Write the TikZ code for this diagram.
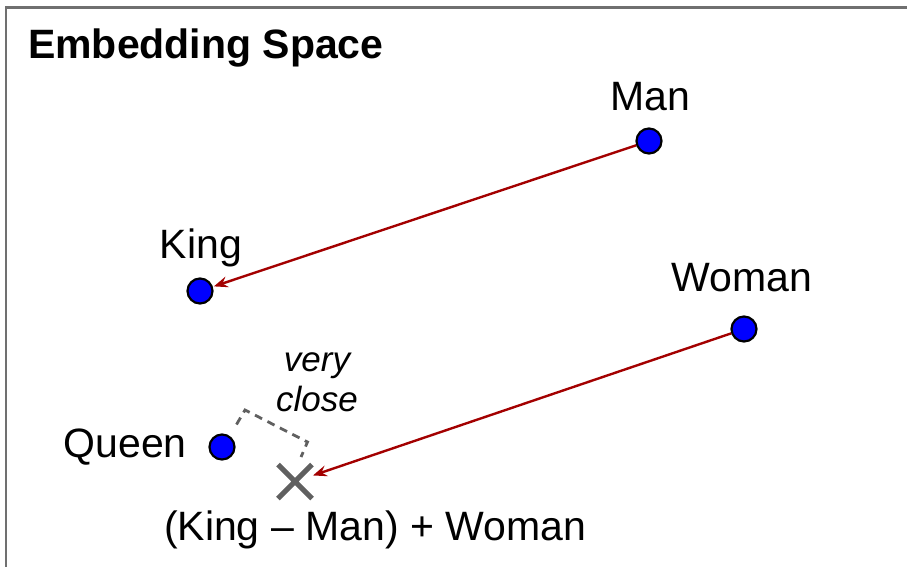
\documentclass[tikz,border=0pt]{standalone}
\usepackage{fontspec}
\setmainfont{Liberation Sans}
\usetikzlibrary{arrows.meta,shapes.misc}
\definecolor{arrred}{RGB}{163,0,0}
\definecolor{framegray}{RGB}{112,112,112}
\definecolor{xgray}{RGB}{96,96,96}
\tikzset{
  dot/.style={circle,fill=blue,draw=black,line width=2.2pt,minimum size=25pt,inner sep=0pt},
  lbl/.style={anchor=base,inner sep=0pt,font=\fontsize{41}{49}\selectfont},
  arr/.style={draw=arrred,line width=2.4pt,-{Stealth[length=14pt,width=11pt,inset=5pt]},shorten >=1pt},
  frame/.style={draw=framegray,line width=2.5pt},
  closebr/.style={draw=xgray,line width=2.8pt,dash pattern=on 8pt off 6pt},
  crossmark/.style={cross out,draw=xgray,line width=5pt,minimum size=29pt,inner sep=0pt}
}
\begin{document}
\begin{tikzpicture}[x=1pt,y=-1pt]
\useasboundingbox (0,0) rectangle (907,566);
% frame
\coordinate (ftl) at (6,7.5);
\coordinate (ftr) at (910,7.5);
\coordinate (fbl) at (6,570);
\draw[frame] (fbl) -- (ftl) -- (ftr);
% title
\node[anchor=base west,inner sep=0pt,font=\fontsize{41}{49}\selectfont\bfseries] (title) at (28,58) {Embedding Space};
% dots
\node[dot] (man) at (649,141) {};
\node[dot] (king) at (200,291) {};
\node[dot] (woman) at (744,329) {};
\node[dot] (queen) at (222,447) {};
\node[crossmark] (x) at (295,481.5) {};
% labels
\node[lbl] (manl) at (650,110) {Man};
\node[lbl] (kingl) at (201,258) {King};
\node[lbl] (womanl) at (742,291) {Woman};
\node[lbl,anchor=base east] (queenl) at (187,457) {Queen};
\node[lbl] (forml) at (375,540) {(King – Man) + Woman};
\node[anchor=base,inner sep=0pt,font=\fontsize{35}{40}\selectfont\itshape,align=center] (close) at (317,411.5) {very\\close};
% arrows
\draw[arr] (man) -- (king);
\draw[arr] (woman) -- (x);
% bracket
\coordinate (b1) at (236.5,424.5);
\coordinate (b2) at (245,410);
\coordinate (b3) at (307.5,442);
\coordinate (b4) at (301,457);
\draw[closebr] (b1) -- (b2) -- (b3) -- (b4);
\end{tikzpicture}
\end{document}
